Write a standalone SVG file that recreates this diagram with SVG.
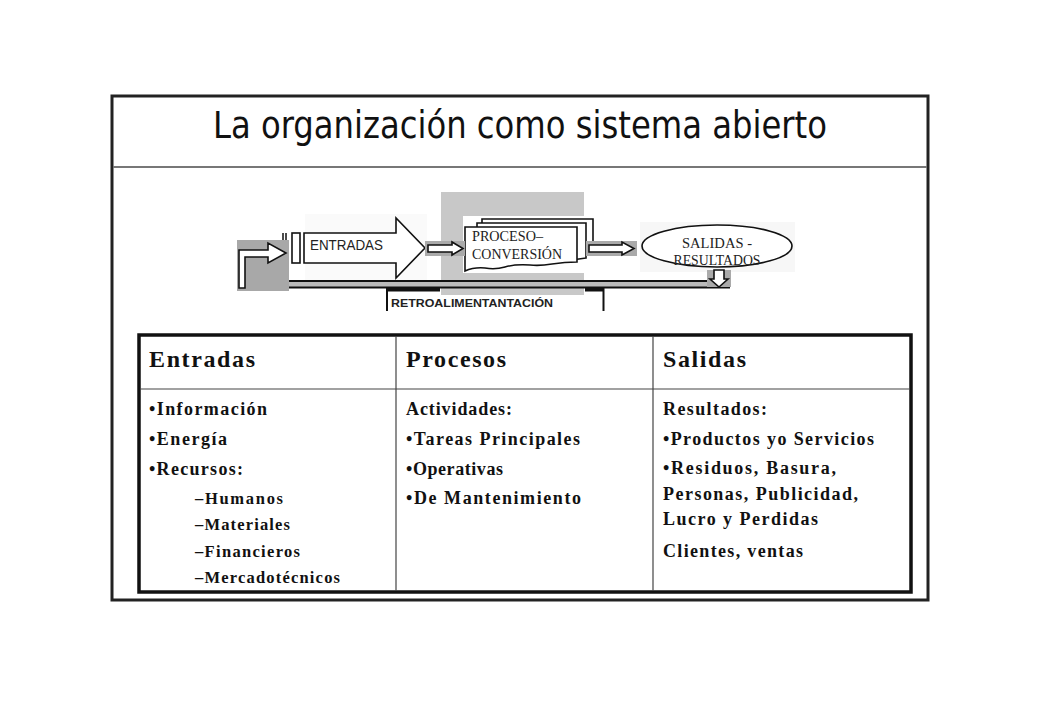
<svg xmlns="http://www.w3.org/2000/svg" width="1040" height="720" viewBox="0 0 1040 720">
<style>
.ser{font-family:"Liberation Serif","Times New Roman",serif;font-weight:bold;fill:#111}
.hd{font-size:24px}
.it{font-size:18px}
.sub{font-size:16.5px}
.pic{font-family:"Liberation Serif","Times New Roman",serif;font-size:15px;fill:#222}
.arr{fill:#fff;stroke:#111;stroke-width:1.6}
</style>
<rect width="1040" height="720" fill="#fff"/>
<g id="frame">
<rect x="112" y="96" width="816" height="504" fill="none" stroke="#222" stroke-width="3"/>
<line x1="113" y1="167" x2="927" y2="167" stroke="#777" stroke-width="2"/>
</g>
<g id="title">
<text x="520" y="138" text-anchor="middle" font-family="DejaVu Sans Condensed, DejaVu Sans, sans-serif" font-size="37" fill="#111" textLength="614" lengthAdjust="spacingAndGlyphs">La organización como sistema abierto</text>
</g>
<g id="diagram">
<rect x="305" y="214" width="122" height="66" fill="#fafafa"/>
<rect x="640" y="222" width="155" height="50" fill="#f7f7f7"/>
<rect x="441" y="192" width="143" height="103" fill="#c8c8c8"/>
<rect x="463" y="216" width="121" height="57" fill="#fff"/>
<rect x="237" y="240" width="52" height="51" fill="#a8a8a8"/>
<g id="entradas">
<path class="arr" d="M304,233 H396 V218 L425,248 L396,278 V263 H304 Z"/>
<text x="310" y="250" font-family="Liberation Sans, Arial, sans-serif" font-size="15" fill="#222" textLength="73" lengthAdjust="spacingAndGlyphs">ENTRADAS</text>
<path d="M283,233 v7 M286,233 v7" stroke="#111" stroke-width="1.5"/>
<rect x="292" y="233" width="8" height="30" fill="#fff" stroke="#111" stroke-width="1.6"/>
</g>
<g id="proceso">
<path class="arr" d="M482,219 H593 V253 Q580,254 570,256 L570,262 L482,262 Z"/>
<path class="arr" d="M477,223 H586 V258 Q575,259 565,262 L477,266 Z"/>
<path class="arr" d="M465,227 H577 V262 Q565,262 552,264 Q540,266 530,265 Q515,264 505,267 Q495,270 485,268 Q474,267 465,271 Z"/>
<text class="pic" x="472" y="241" textLength="71" lengthAdjust="spacingAndGlyphs">PROCESO–</text>
<text class="pic" x="472" y="259" textLength="90" lengthAdjust="spacingAndGlyphs">CONVERSIÓN</text>
</g>
<g id="salidas">
<ellipse cx="717" cy="246" rx="75" ry="21" fill="#fff" stroke="#111" stroke-width="1.6"/>
<text class="pic" x="717" y="248" text-anchor="middle" font-size="16" textLength="70" lengthAdjust="spacingAndGlyphs">SALIDAS -</text>
<text class="pic" x="717" y="265" text-anchor="middle" font-size="16" textLength="87" lengthAdjust="spacingAndGlyphs">RESULTADOS</text>
</g>
<g id="feedback">
<rect x="289" y="282" width="441" height="5" fill="#bbb"/>
<line x1="289" y1="281" x2="730" y2="281" stroke="#111" stroke-width="2"/>
<line x1="289" y1="287.5" x2="730" y2="287.5" stroke="#111" stroke-width="2"/>
<rect x="386" y="288" width="54" height="3.5" fill="#111"/>
<rect x="585" y="288" width="19" height="3.5" fill="#111"/>
<line x1="387" y1="288" x2="387" y2="311" stroke="#111" stroke-width="2"/>
<line x1="603.5" y1="288" x2="603.5" y2="311" stroke="#111" stroke-width="2"/>
<text x="391" y="307" font-family="Liberation Sans, Arial, sans-serif" font-weight="bold" font-size="11.5" fill="#222" textLength="162" lengthAdjust="spacingAndGlyphs">RETROALIMENTANTACIÓN</text>
</g>
</g>
<g id="connectors">
<path class="arr" d="M239,288 V250 H268 V243 L286,253 L268,263 V257 H245 V288 Z" fill="#a8a8a8"/>
<rect x="425" y="241" width="40" height="15" fill="#aaa"/>
<path class="arr" d="M428,245 H452 V242 L463,248.5 L452,255 V252 H428 Z" fill="#ccc"/>
<rect x="586" y="241" width="51" height="15" fill="#aaa"/>
<path class="arr" d="M589,245 H622 V242 L634,248.5 L622,255 V252 H589 Z" fill="#ccc"/>
<rect x="707" y="270" width="24" height="17" fill="#aaa"/>
<path class="arr" d="M714,270 V279 H710 L719,287 L728,279 H724 V270 Z" fill="#ccc"/>
</g>
<g id="table">
<rect x="139" y="335" width="772" height="257" fill="#fff" stroke="#111" stroke-width="3.5"/>
<line x1="140" y1="389" x2="910" y2="389" stroke="#444" stroke-width="1.2"/>
<line x1="396" y1="336" x2="396" y2="591" stroke="#444" stroke-width="1.2"/>
<line x1="653" y1="336" x2="653" y2="591" stroke="#444" stroke-width="1.2"/>
</g>
<g id="col-entradas">
<text class="ser hd" x="149" y="367" textLength="106" lengthAdjust="spacing">Entradas</text>
<text class="ser it" x="149" y="415" textLength="118" lengthAdjust="spacing">•Información</text>
<text class="ser it" x="149" y="445" textLength="78" lengthAdjust="spacing">•Energía</text>
<text class="ser it" x="149" y="475" textLength="94" lengthAdjust="spacing">•Recursos:</text>
<text class="ser sub" x="195" y="504" textLength="88" lengthAdjust="spacing">–Humanos</text>
<text class="ser sub" x="195" y="530" textLength="95" lengthAdjust="spacing">–Materiales</text>
<text class="ser sub" x="195" y="557" textLength="105" lengthAdjust="spacing">–Financieros</text>
<text class="ser sub" x="195" y="583" textLength="145" lengthAdjust="spacing">–Mercadotécnicos</text>
</g>
<g id="col-procesos">
<text class="ser hd" x="406" y="367" textLength="100" lengthAdjust="spacing">Procesos</text>
<text class="ser it" x="406" y="415" textLength="106" lengthAdjust="spacing">Actividades:</text>
<text class="ser it" x="406" y="445" textLength="174" lengthAdjust="spacing">•Tareas Principales</text>
<text class="ser it" x="406" y="475" textLength="97" lengthAdjust="spacing">•Operativas</text>
<text class="ser it" x="406" y="504" textLength="175" lengthAdjust="spacing">•De Mantenimiento</text>
</g>
<g id="col-salidas">
<text class="ser hd" x="663" y="367" textLength="83" lengthAdjust="spacing">Salidas</text>
<text class="ser it" x="663" y="415" textLength="104" lengthAdjust="spacing">Resultados:</text>
<text class="ser it" x="663" y="445" textLength="211" lengthAdjust="spacing">•Productos yo Servicios</text>
<text class="ser it" x="663" y="474" textLength="173" lengthAdjust="spacing">•Residuos, Basura,</text>
<text class="ser it" x="663" y="500" textLength="195" lengthAdjust="spacing">Personas, Publicidad,</text>
<text class="ser it" x="663" y="525" textLength="155" lengthAdjust="spacing">Lucro y Perdidas</text>
<text class="ser it" x="663" y="557" textLength="140" lengthAdjust="spacing">Clientes, ventas</text>
</g>
</svg>
